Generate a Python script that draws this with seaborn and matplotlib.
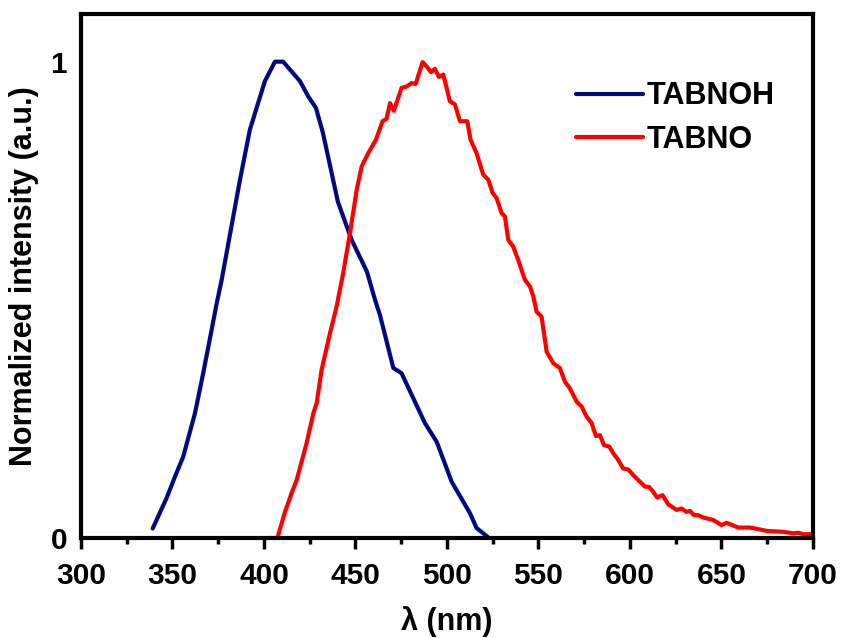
import matplotlib
matplotlib.use('Agg')
import matplotlib.pyplot as plt
import numpy as np
import pandas as pd
import seaborn as sns
from matplotlib.ticker import MultipleLocator

# TABNOH emission (wavelength nm, normalized intensity)
tabnoh_wl = [339.2, 346.8, 351.4, 355.9, 362.3, 366.8, 371.4, 374.2, 376.9, 386.9,
             392.3, 400.5, 406.0, 410.5, 419.7, 424.2, 428.4, 432.2, 440.4, 447.9,
             456.3, 460.7, 463.4, 470.7, 475.2, 488.0, 494.4, 502.6, 512.6, 516.2,
             522.4]
tabnoh_int = [0.020, 0.084, 0.129, 0.171, 0.262, 0.346, 0.437, 0.493, 0.542, 0.752,
              0.857, 0.959, 1.000, 1.000, 0.959, 0.927, 0.903, 0.851, 0.706, 0.626,
              0.559, 0.500, 0.468, 0.357, 0.346, 0.241, 0.202, 0.118, 0.052, 0.021,
              0.002]

# TABNO emission
tabno_wl = [402.4, 407.3, 409.7, 411.5, 415.1, 417.9, 423.3, 427.0, 428.8, 431.5,
            436.1, 439.7, 443.3, 447.0, 450.7, 453.4, 457.0, 461.2, 464.8, 467.0,
            468.9, 471.0, 475.2, 478.0, 480.7, 482.9, 486.7, 488.9, 491.3, 493.4,
            495.6, 498.0, 501.6, 504.4, 507.1, 511.1, 512.9, 516.2, 519.8, 522.6,
            525.0, 527.1, 529.9, 531.7, 533.5, 536.2, 538.9, 542.6, 545.4, 547.2,
            549.0, 551.7, 554.5, 558.1, 561.7, 564.5, 567.2, 570.9, 573.6, 576.3,
            579.1, 581.4, 583.6, 585.8, 588.7, 590.9, 593.6, 596.3, 599.1, 601.8,
            605.5, 608.2, 610.5, 612.7, 614.9, 617.8, 620.9, 625.5, 628.2, 630.9,
            632.8, 635.0, 637.3, 640.1, 645.5, 650.1, 652.8, 659.2, 665.6, 671.0,
            674.7, 683.8, 689.2, 692.0, 694.8, 699.3, 700.0]
tabno_int = [0.000, 0.000, 0.031, 0.055, 0.094, 0.122, 0.199, 0.262, 0.283, 0.353,
             0.430, 0.486, 0.556, 0.640, 0.731, 0.780, 0.808, 0.836, 0.875, 0.880,
             0.913, 0.897, 0.945, 0.948, 0.955, 0.953, 0.999, 0.990, 0.978, 0.985,
             0.968, 0.973, 0.917, 0.910, 0.875, 0.875, 0.836, 0.808, 0.763, 0.752,
             0.724, 0.714, 0.682, 0.675, 0.626, 0.612, 0.584, 0.542, 0.528, 0.507,
             0.475, 0.465, 0.391, 0.367, 0.357, 0.328, 0.314, 0.286, 0.276, 0.255,
             0.241, 0.214, 0.216, 0.195, 0.192, 0.178, 0.164, 0.146, 0.144, 0.132,
             0.118, 0.108, 0.107, 0.097, 0.085, 0.090, 0.071, 0.059, 0.062, 0.055,
             0.057, 0.048, 0.048, 0.043, 0.038, 0.027, 0.032, 0.022, 0.022, 0.018,
             0.015, 0.013, 0.010, 0.011, 0.008, 0.008, 0.006]

sns.set_style('ticks')
plt.rcParams['font.family'] = ['Liberation Sans', 'DejaVu Sans']
plt.rcParams['font.weight'] = 'bold'
for k in ['text.color', 'axes.labelcolor', 'xtick.color', 'ytick.color', 'axes.edgecolor']:
    plt.rcParams[k] = 'black'

df = pd.concat([
    pd.DataFrame({'wl': tabnoh_wl, 'I': tabnoh_int, 'sample': 'TABNOH'}),
    pd.DataFrame({'wl': tabno_wl, 'I': tabno_int, 'sample': 'TABNO'}),
], ignore_index=True)

fig = plt.figure(figsize=(8.46, 6.38), dpi=100)
ax = fig.add_axes([0.0957, 0.1567, 0.8652, 0.8213])

sns.lineplot(data=df, x='wl', y='I', hue='sample', sort=False, estimator=None,
             palette={'TABNOH': '#000A80', 'TABNO': '#FF0000'}, linewidth=3, ax=ax)

ax.set_xlim(300, 700)
ax.set_ylim(0, 1.1)
ax.set_xticks(np.arange(300, 701, 50))
ax.xaxis.set_minor_locator(MultipleLocator(25))
ax.set_yticks([0, 1], ['0', '1'])

for s in ax.spines.values():
    s.set_linewidth(3)
    s.set_color('black')

ax.tick_params(axis='x', which='major', direction='out', length=8, width=2.5,
               labelsize=21.5, pad=9, color='black', labelcolor='black')
ax.tick_params(axis='x', which='minor', direction='out', length=4, width=2.5, color='black')
ax.tick_params(axis='y', which='major', length=0, labelsize=21.5, pad=10, labelcolor='black')
for lab in ax.get_xticklabels() + ax.get_yticklabels():
    lab.set_fontweight('bold')

ax.set_xlabel('λ (nm)', fontsize=22, fontweight='bold', labelpad=12, color='black')
ax.set_ylabel('Normalized intensity (a.u.)', fontsize=22, fontweight='bold', labelpad=8,
              color='black')

leg = ax.legend(loc='upper left', bbox_to_anchor=(0.66, 0.895), frameon=False,
                fontsize=22, handlelength=2.2, handletextpad=0.1, labelspacing=0.45,
                borderaxespad=0)
for t in leg.get_texts():
    t.set_fontweight('bold')
    t.set_color('black')
for h in leg.get_lines():
    h.set_linewidth(3)

fig.savefig('out.png', dpi=100)
